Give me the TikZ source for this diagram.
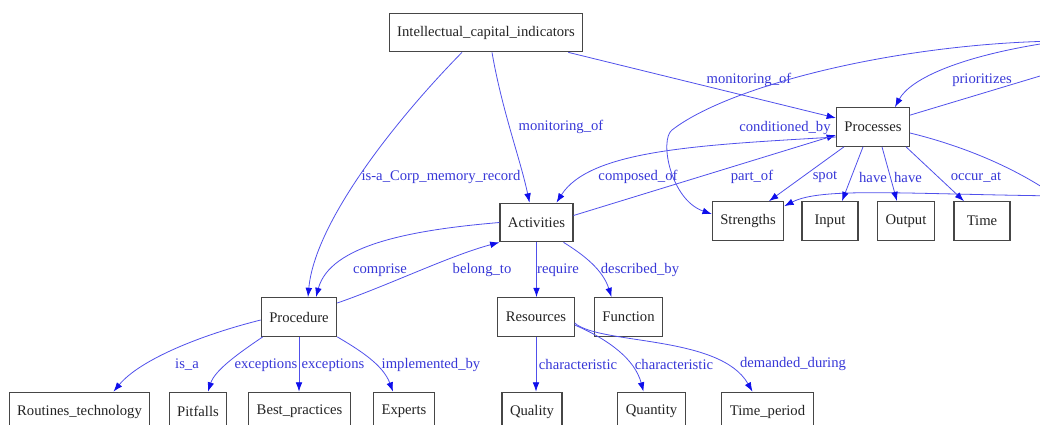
\documentclass[tikz,border=0pt]{standalone}
\usepackage{fontspec}
\setmainfont{Liberation Serif}
\usepackage{tikz}
\usetikzlibrary{arrows.meta, calc}
\usepackage{xcolor}
\definecolor{EdgeBlue}{RGB}{80, 80, 235}
\definecolor{TipBlue}{RGB}{15, 15, 235}
\definecolor{LabelBlue}{RGB}{55, 55, 215}
\definecolor{BoxGray}{RGB}{70, 70, 70}
\definecolor{InkBlack}{RGB}{35, 35, 35}
\tikzset{%
  concept/.style={%
    rectangle,%
    draw=BoxGray,%
    line width=0.8pt,%
    fill=white,%
    text=InkBlack,%
    minimum width=42pt,%
    minimum height=29pt,%
    inner xsep=6pt,%
    font={\fontsize{11}{13}\selectfont},%
    align=center%
  },
  relation/.style={%
    text=LabelBlue,%
    inner sep=0pt,%
    font={\fontsize{11}{13}\selectfont},%
  },
  link/.style={%
    color=EdgeBlue,%
    line width=0.6pt,%
    line join=round,%
  },
  arrow/.style={-{Latex[length=7pt, width=5pt, color=TipBlue]}},
}

\begin{document}
\begin{tikzpicture}[x=0.75pt, y=-0.75pt]
    \useasboundingbox (0,0) rectangle (1040,425);
    \clip (0,0) rectangle (1040,425);

    % concepts
    \node [concept] (Indicators) at (486,32.5) {Intellectual\_capital\_indicators};
    \node [concept] (Processes) at (873,127) {Processes};
    \node [concept] (Activities) at (536.5,222.5) {Activities};
    \node [concept] (Strengths) at (748,221) {Strengths};
    \node [concept] (Input) at (830,221) {Input};
    \node [concept] (Output) at (906,221) {Output};
    \node [concept] (Time) at (982,221) {Time};
    \node [concept] (Procedure) at (299,317) {Procedure};
    \node [concept] (Resources) at (536,317) {Resources};
    \node [concept] (Function) at (628.5,317) {Function};
    \node [concept] (Routines) at (79.5,411.5) {Routines\_technology};
    \node [concept] (Pitfalls) at (198,411.5) {Pitfalls};
    \node [concept] (BestPractices) at (299.5,411.5) {Best\_practices};
    \node [concept] (Experts) at (404,411.5) {Experts};
    \node [concept] (Quality) at (532,411.5) {Quality};
    \node [concept] (Quantity) at (651.5,411.5) {Quantity};
    \node [concept] (TimePeriod) at (767.5,411.5) {Time\_period};

    % ends of edges that leave the picture
    \coordinate (OffTop) at (1060,41);
    \coordinate (OffLow) at (1060,196);
    \coordinate (OffUpper) at (1060,70);
    \coordinate (OffLower) at (1060,199);

    % from the indicators
    \draw [arrow, link]
      ($(Indicators.south)+(-24,0)$)
      .. controls +(-62,63) and +(7,-77) ..
      ($(Procedure.north)+(9,0)$)
      node [relation] at (441,177) {is-a\_Corp\_memory\_record};
    \draw [arrow, link]
      ($(Indicators.south)+(6,0)$)
      .. controls +(10,58) and +(-9,-43) ..
      ($(Activities.north)+(-7,0)$)
      node [relation] at (561,127) {monitoring\_of};
    \draw [arrow, link]
      ($(Indicators.south east)+(-15,0)$) -- ($(Processes.west)+(0,-9)$)
      node [relation] at (749,80) {monitoring\_of};

    % around the processes
    \draw [arrow, link]
      (OffTop) .. controls +(-100,14) and +(15,-28) ..
      ($(Processes.north)+(22,0)$)
      node [relation] at (982,80) {prioritizes};
    \draw [arrow, link]
      (OffTop) .. controls +(-160,2) and +(58,-45) .. (672,130)
      .. controls +(-13,10) and +(-41,-14) ..
      ($(Strengths.west)+(0,-7)$);
    \draw [arrow, link]
      (OffLow) .. controls +(-160,-2) and +(37,-19) ..
      ($(Strengths.north east)+(0,5)$);
    \draw [arrow, link]
      ($(Processes.north east)+(0,8)$) -- (OffUpper);
    \draw [arrow, link]
      ($(Processes.east)+(0,6)$)
      .. controls +(49,12) and +(-50,-34) .. (OffLower);
    \draw [arrow, link]
      ($(Processes.south west)+(8,0)$) -- ($(Strengths.north)+(21,0)$)
      node [relation] at (752,177) {part\_of}
      node [relation] at (825,177) {spot};
    \draw [arrow, link]
      ($(Processes.south)+(-10,0)$) -- ($(Input.north)+(12,0)$)
      node [relation] at (873,177) {have};
    \draw [arrow, link]
      ($(Processes.south)+(9,0)$) -- ($(Output.north)+(-9,0)$)
      node [relation] at (908,177) {have};
    \draw [arrow, link]
      ($(Processes.south east)+(-4,0)$) -- ($(Time.north)+(-18,0)$)
      node [relation] at (976,177) {occur\_at};

    % activities and processes
    \draw [arrow, link]
      ($(Activities.east)+(0,-7)$) -- ($(Processes.west)+(0,8)$)
      node [relation] at (785,128) {conditioned\_by};
    \draw [arrow, link]
      ($(Processes.west)+(0,10)$)
      .. controls +(-135,8) and +(33.5,-53) ..
      ($(Activities.north)+(20,0)$)
      node [relation] at (638,177) {composed\_of};

    % activities and procedure
    \draw [arrow, link]
      (Activities.west)
      .. controls +(-89,7.5) and +(14,-52) ..
      ($(Procedure.north)+(17,0)$)
      node [relation] at (380,270) {comprise};
    \draw [arrow, link]
      ($(Procedure.east)+(0,-14)$)
      .. controls +(52,-18) and +(-49,13) ..
      (Activities.south west)
      node [relation] at (482,270) {belong\_to};
    \draw [arrow, link]
      (Activities.south) -- (Activities.south |- Resources.north)
      node [relation] at (558,270) {require};
    \draw [arrow, link]
      ($(Activities.south east)+(-10,0)$)
      .. controls +(21,13) and +(-8.5,-27) ..
      ($(Function.north)+(-17,0)$)
      node [relation] at (640,270) {described\_by};

    % resources
    \draw [arrow, link]
      (Resources.south) -- (Resources.south |- Quality.north)
      node [relation] at (578,364) {characteristic};
    \draw [arrow, link]
      ($(Resources.east)+(0,8)$)
      .. controls +(35,15) and +(-8.5,-32) ..
      ($(Quantity.north)+(-8,0)$)
      node [relation] at (674,364) {characteristic};
    \draw [arrow, link]
      ($(Resources.east)+(0,6)$)
      .. controls +(25,22) and +(-32.5,-57) ..
      ($(TimePeriod.north)+(-15,0)$)
      node [relation] at (793,364) {demanded\_during};

    % procedure
    \draw [arrow, link]
      ($(Procedure.west)+(0,3)$)
      .. controls +(-60,15) and +(26.5,-32) ..
      ($(Routines.north)+(34,0)$)
      node [relation] at (187,365) {is\_a};
    \draw [arrow, link]
      ($(Procedure.south west)+(2,0)$)
      .. controls +(-22,15) and +(7,-22) ..
      ($(Pitfalls.north)+(10,0)$)
      node [relation] at (266,365) {exceptions};
    \draw [arrow, link]
      (Procedure.south) -- (Procedure.south |- BestPractices.north)
      node [relation] at (333,365) {exceptions};
    \draw [arrow, link]
      (Procedure.south east)
      .. controls +(22,13) and +(-10,-27) ..
      ($(Experts.north)+(-11,0)$)
      node [relation] at (431,365) {implemented\_by};
  \end{tikzpicture}
\end{document}
